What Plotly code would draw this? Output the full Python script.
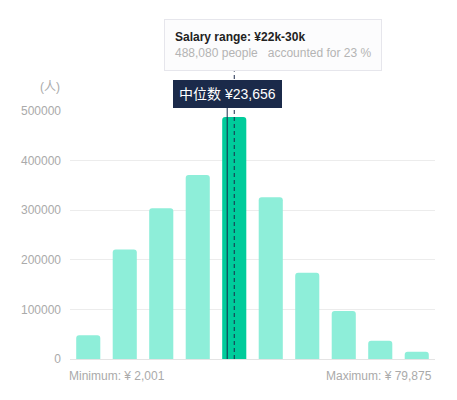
import plotly.graph_objects as go

# salary histogram data
bins = ["2k-6k", "6k-10k", "10k-15k", "15k-22k", "22k-30k",
        "30k-40k", "40k-50k", "50k-60k", "60k-70k", "70k-80k"]
people = [48000, 221000, 304000, 371000, 488080, 326000, 174000, 97000, 37000, 14500]
share = [2, 10, 14, 18, 23, 16, 8, 5, 2, 1]

active = 4                 # hovered bin (22k-30k)
bin_lo, bin_hi = 22000, 30000
median = 23656
min_salary = 2001
max_salary = 79875

light = "#8eeed9"
strong = "#00cc9b"
navy = "#1b2a4a"
grey = "#aaaaaa"
font = "Liberation Sans, Helvetica, Arial, Noto Sans CJK SC, sans-serif"

bar_w = 0.66
# median position inside the active bar
median_x = active - bar_w / 2 + (median - bin_lo) / (bin_hi - bin_lo) * bar_w

colors = [strong if i == active else light for i in range(len(bins))]

trace = go.Bar(x=list(range(len(bins))), y=people,
               marker=dict(color=colors, cornerradius=3, line=dict(width=0)),
               width=bar_w, hoverinfo="skip")

fig = go.Figure(data=[trace])

fig.update_layout(
    width=457, height=400,
    margin=dict(l=70, r=22, t=111, b=41),
    paper_bgcolor="white", plot_bgcolor="white",
    font=dict(family=font, size=12, color=grey),
    showlegend=False,
    xaxis=dict(range=[-0.5, len(bins) - 0.5], showticklabels=False, ticks="",
               showgrid=False, zeroline=False, showline=True,
               linecolor="#e4e4e4", linewidth=1, fixedrange=True),
    yaxis=dict(range=[0, 500000], dtick=100000, tickformat="d",
               gridcolor="#ececec", gridwidth=1, zeroline=False,
               showline=False, ticks="", ticklabelstandoff=8,
               tickfont=dict(size=12, color=grey), fixedrange=True),
)

# axis pointer (dashed) and median line (solid)
fig.add_shape(type="line", xref="x", yref="paper", x0=active, x1=active,
              y0=0, y1=1.16, line=dict(color=navy, width=1, dash="4px,3px"))
fig.add_shape(type="line", xref="x", yref="paper", x0=median_x, x1=median_x,
              y0=0, y1=1.02, line=dict(color=navy, width=1))

# median label
fig.add_annotation(x=median_x, xref="x", y=1, yref="paper",
                   yanchor="bottom", yshift=3, showarrow=False,
                   text="中位数 ¥{:,}".format(median),
                   font=dict(size=14, color="white"),
                   bgcolor=navy, borderpad=6, borderwidth=0)

# tooltip box
tip = ("<b>Salary range: ¥{}</b><br>"
       "<span style='color:#b4b4b4'>{:,} people   accounted for {} %</span>"
       ).format(bins[active], people[active], share[active])
fig.add_annotation(x=active, xref="x", xanchor="left", xshift=-70,
                   y=1.37, yref="paper", yanchor="top", showarrow=False,
                   text=tip, align="left",
                   font=dict(size=12, color="#222222"),
                   bgcolor="#fcfcfd", bordercolor="#e6e6ec", borderwidth=1,
                   borderpad=10)

# unit label
fig.add_annotation(x=0, xref="paper", xanchor="right", xshift=-8,
                   y=1, yref="paper", yanchor="middle", yshift=24,
                   showarrow=False, text="(人)",
                   font=dict(size=12, color=grey))

# min / max labels
fig.add_annotation(x=0, xref="paper", xanchor="left", xshift=-3, y=0,
                   yref="paper", yanchor="top", yshift=-8, showarrow=False,
                   text="Minimum: ¥ {:,}".format(min_salary),
                   font=dict(size=12, color=grey))
fig.add_annotation(x=1, xref="paper", xanchor="right", xshift=-1, y=0,
                   yref="paper", yanchor="top", yshift=-8, showarrow=False,
                   text="Maximum: ¥ {:,}".format(max_salary),
                   font=dict(size=12, color=grey))

fig.write_html("out.html", config={"displayModeBar": False},
               post_script="document.body.style.margin='0';")
